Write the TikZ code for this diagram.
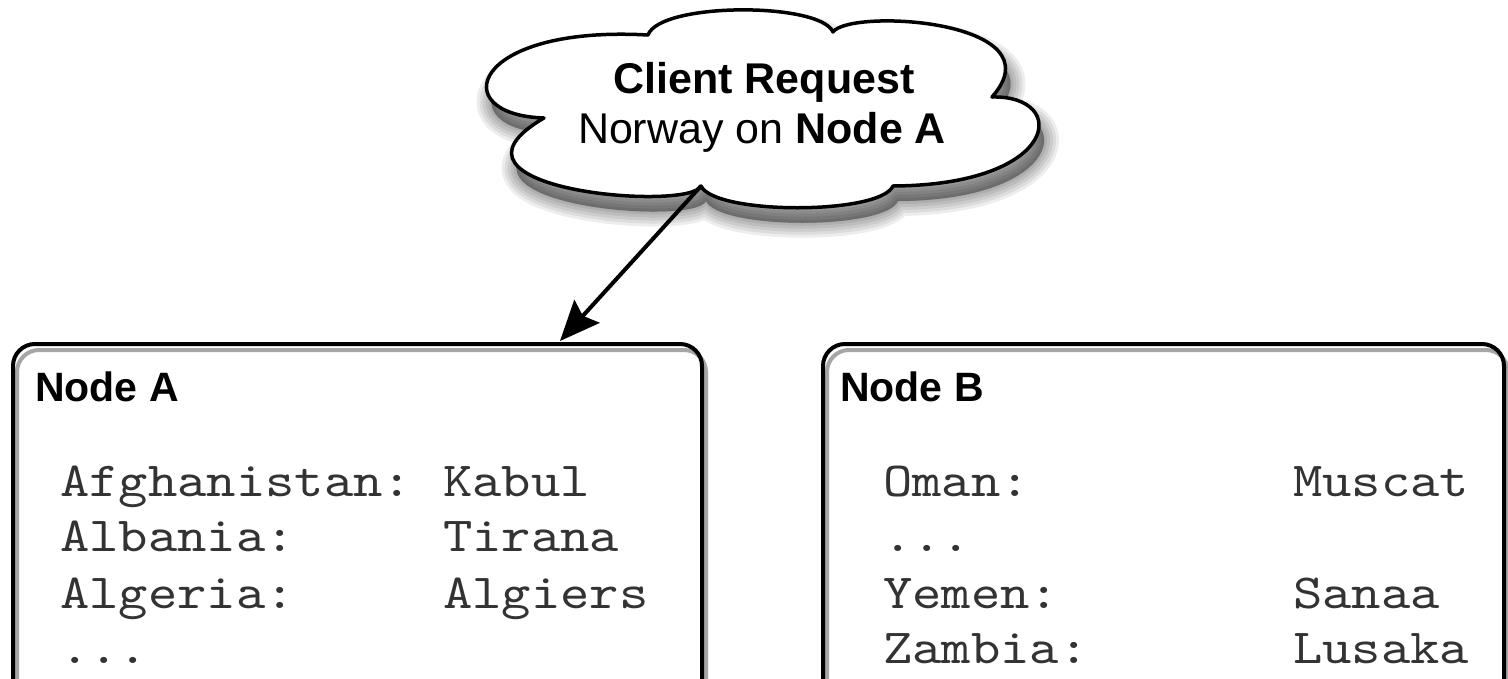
\documentclass[tikz,border=0pt]{standalone}
\usepackage{fontspec}
\setmainfont{Liberation Sans}
\newfontfamily\monofont{lmmono10-regular}[Extension=.otf, FakeStretch=1.14]
\usetikzlibrary{arrows.meta}
\tikzset{
  cloudp/.style={insert path={(544,118) .. controls (445,115) and (470,25) .. (648,35)
     .. controls (660,2) and (820,2) .. (833,32)
     .. controls (850,8) and (1060,20) .. (992,97)
     .. controls (1070,95) and (1060,185) .. (893,186)
     .. controls (880,215) and (715,215) .. (701,186)
     .. controls (690,212) and (420,190) .. (544,118) -- cycle}},
  boxline/.style={line width=4pt, rounded corners=22pt, line join=round},
  boxshadow/.style={boxline, draw=black!35, shift={(4,6)}},
  sanslbl/.style={inner sep=0pt, anchor=base, font=\fontsize{41}{46}\selectfont},
  cloudlbl/.style={inner sep=0pt, anchor=base, font=\fontsize{43}{46}\selectfont},
  monolbl/.style={inner sep=0pt, anchor=base west, text=black!80, font=\monofont\fontsize{49}{55}\selectfont},
  conn/.style={line width=4pt, -{Stealth[length=40pt,width=34pt,inset=6pt]}},
}
\begin{document}
\begin{tikzpicture}[x=1pt,y=-1pt]
\useasboundingbox (0,0) rectangle (1508,678);
\clip (0,0) rectangle (1508,678);
\fill[white] (0,0) rectangle (1508,678);

% cloud shadow (soft)
\foreach \w in {30,24,18,12,6,1}{
  \path[fill=black, draw=black, opacity=0.07, line width=\w pt, line join=round, shift={(5,15)}] [cloudp];
}
% cloud
\path[fill=white, draw=black, line width=3.5pt, line join=round] [cloudp];
\coordinate (cnotch) at (701,186);
\node[cloudlbl] (req1) at (764,93) {\bfseries Client Request};
\node[cloudlbl] (req2) at (762,143) {Norway on \bfseries Node A};

% Node A box
\draw[boxshadow] (13,700) -- (13,344) -- (702,344) -- (702,700);
\draw[boxline] (13,700) -- (13,344) -- (702,344) -- (702,700);
\coordinate (atop) at (560,341);
\node[sanslbl, anchor=base west] (labelA) at (35,401) {\bfseries Node A};
\node[monolbl] (a1) at (60,496) {Afghanistan:};
\node[monolbl] (a1c) at (443,496) {Kabul};
\node[monolbl] (a2) at (60,551) {Albania:};
\node[monolbl] (a2c) at (443,551) {Tirana};
\node[monolbl] (a3) at (60,608) {Algeria:};
\node[monolbl] (a3c) at (443,608) {Algiers};
\node[monolbl] (a4) at (60,663) {...};

% Node B box
\draw[boxshadow] (823,700) -- (823,344) -- (1504,344) -- (1504,700);
\draw[boxline] (823,700) -- (823,344) -- (1504,344) -- (1504,700);
\node[sanslbl, anchor=base west] (labelB) at (840,401) {\bfseries Node B};
\node[monolbl] (b1) at (883,496) {Oman:};
\node[monolbl] (b1c) at (1293,496) {Muscat};
\node[monolbl] (b2) at (883,551) {...};
\node[monolbl] (b3) at (883,608) {Yemen:};
\node[monolbl] (b3c) at (1293,608) {Sanaa};
\node[monolbl] (b4) at (883,663) {Zambia:};
\node[monolbl] (b4c) at (1293,663) {Lusaka};

% request arrow
\draw[conn] (cnotch) -- (atop);
\end{tikzpicture}
\end{document}
